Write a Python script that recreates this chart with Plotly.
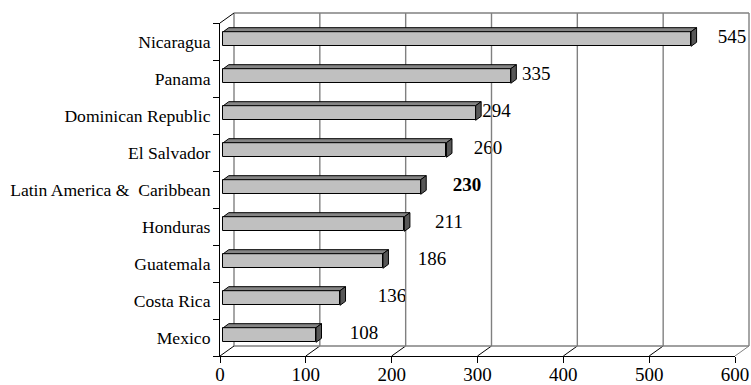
import plotly.graph_objects as go

# ---- data -------------------------------------------------------------
countries = ["Nicaragua", "Panama", "Dominican Republic", "El Salvador",
             "Latin America &\u00a0 Caribbean", "Honduras", "Guatemala",
             "Costa Rica", "Mexico"]
values = [545, 335, 294, 260, 230, 211, 186, 136, 108]
x_ticks = [0, 100, 200, 300, 400, 500, 600]
highlight = "Latin America &\u00a0 Caribbean"

# horizontal gap between each bar end and its value label (axis units)
label_gap = [51.5, 33.5, 28.0, 52.2, 57.8, 55.8, 61.0, 64.4, 59.8]

# ---- layout geometry (pixels) ---------------------------------------------
W, H = 751, 385
FRONT_LEFT, FRONT_RIGHT = 220, 735      # x = 0 .. 600 on the front edge
FRONT_BOTTOM, FRONT_TOP = 356, 23       # category axis on the front edge
DRAW_TOP = 10                           # top of drawing area (back wall)
DEPTH_PX = (14, 10)                     # 3-D depth offset of the back wall

XMAX = x_ticks[-1]
n = len(countries)
px_x = (FRONT_RIGHT - FRONT_LEFT) / XMAX
px_y = (FRONT_BOTTOM - FRONT_TOP) / n
x2_max = (W - FRONT_LEFT) / px_x
y2_max = (FRONT_BOTTOM - DRAW_TOP) / px_y

DX = DEPTH_PX[0] / px_x                 # depth in axis units
DY = DEPTH_PX[1] / px_y

# bar placement inside the depth (axis units)
bar_dx0 = 3.3 / px_x
bar_dy0 = 2.5 / px_y
bar_half = 7.3 / px_y
bar_ddx = 5.5 / px_x
bar_ddy = 4.0 / px_y

centers = [n - 1 - i + 0.5 for i in range(n)]
bar_y = [c + bar_dy0 for c in centers]

fig = go.Figure()

# front faces of the bars
fig.add_trace(go.Bar(
    orientation="h", x=values, y=bar_y, base=bar_dx0, width=2 * bar_half,
    marker=dict(color="#c0c0c0", line=dict(color="black", width=1)),
    xaxis="x2", yaxis="y2", hoverinfo="skip", showlegend=False))

# top and end faces of the bars
top_x, top_y, side_x, side_y = [], [], [], []
for v, yc in zip(values, bar_y):
    x0, x1 = bar_dx0, bar_dx0 + v
    yt, yb = yc + bar_half, yc - bar_half
    top_x += [x0, x0 + bar_ddx, x1 + bar_ddx, x1, x0, None]
    top_y += [yt, yt + bar_ddy, yt + bar_ddy, yt, yt, None]
    side_x += [x1, x1, x1 + bar_ddx, x1 + bar_ddx, x1, None]
    side_y += [yb, yt, yt + bar_ddy, yb + bar_ddy, yb, None]

fig.add_trace(go.Scatter(
    x=top_x, y=top_y, mode="lines", fill="toself", fillcolor="#858585",
    line=dict(color="black", width=1), xaxis="x2", yaxis="y2",
    hoverinfo="skip", showlegend=False))
fig.add_trace(go.Scatter(
    x=side_x, y=side_y, mode="lines", fill="toself", fillcolor="#575757",
    line=dict(color="black", width=1), xaxis="x2", yaxis="y2",
    hoverinfo="skip", showlegend=False))

# value labels
label_text = [f"<b>{v}</b>" if c == highlight else str(v)
              for c, v in zip(countries, values)]
fig.add_trace(go.Scatter(
    x=[v + g for v, g in zip(values, label_gap)],
    y=[c + 3.0 / px_y for c in centers],
    mode="text", text=label_text, textposition="middle center",
    textfont=dict(family="Liberation Serif", size=19, color="black"),
    cliponaxis=False,
    xaxis="x", yaxis="y", hoverinfo="skip", showlegend=False))

# ---- walls, floor and gridlines --------------------------------------------
shapes = []
grey = dict(color="#808080", width=1.4)
for t in x_ticks:
    # vertical gridline on the back wall
    shapes.append(dict(type="line", xref="x2", yref="y2", layer="below",
                       x0=t + DX, x1=t + DX, y0=DY, y1=n + DY, line=grey))
    # depth line on the floor
    shapes.append(dict(type="line", xref="x2", yref="y2", layer="below",
                       x0=t, x1=t + DX, y0=0, y1=DY,
                       line=dict(color="#808080" if t == XMAX else "black",
                                 width=1)))
# back edge of the floor and top edge of the back wall
shapes.append(dict(type="line", xref="x2", yref="y2", layer="below",
                   x0=DX, x1=XMAX + DX, y0=DY, y1=DY, line=grey))
shapes.append(dict(type="line", xref="x2", yref="y2", layer="below",
                   x0=DX, x1=XMAX + DX, y0=n + DY, y1=n + DY, line=grey))
# top edge of the left wall
shapes.append(dict(type="line", xref="x2", yref="y2", layer="below",
                   x0=0, x1=DX, y0=n, y1=n + DY,
                   line=dict(color="black", width=1)))

serif = "Liberation Serif"
fig.update_layout(
    width=W, height=H, autosize=False,
    margin=dict(l=0, r=0, t=0, b=0, pad=0, autoexpand=False),
    paper_bgcolor="white", plot_bgcolor="rgba(0,0,0,0)",
    showlegend=False, bargap=0,
    shapes=shapes,
    font=dict(family=serif, color="black"),
    xaxis=dict(
        domain=[FRONT_LEFT / W, FRONT_RIGHT / W], range=[0, XMAX],
        anchor="y", tickmode="array", tickvals=x_ticks, automargin=False,
        ticks="outside", ticklen=6, tickcolor="black", tickwidth=1,
        ticklabelstandoff=-5,
        showline=True, linecolor="black", linewidth=1,
        showgrid=False, zeroline=False,
        tickfont=dict(family=serif, size=19, color="black")),
    yaxis=dict(
        domain=[(H - FRONT_BOTTOM) / H, (H - FRONT_TOP) / H], range=[0, n],
        anchor="x", tickmode="array", tickvals=centers, ticktext=countries,
        automargin=False,
        ticks="outside", ticklen=5, tickcolor="rgba(0,0,0,0)",
        minor=dict(tick0=0, dtick=1, ticks="outside", ticklen=6,
                   tickcolor="black", tickwidth=1, showgrid=False),
        showline=True, linecolor="black", linewidth=1,
        showgrid=False, zeroline=False,
        tickfont=dict(family=serif, size=17.6, color="black")),
    xaxis2=dict(domain=[FRONT_LEFT / W, 1], range=[0, x2_max],
                anchor="y2", visible=False, automargin=False),
    yaxis2=dict(domain=[(H - FRONT_BOTTOM) / H, (H - DRAW_TOP) / H],
                range=[0, y2_max], anchor="x2", visible=False,
                automargin=False),
)

fig.write_html("out.html")
